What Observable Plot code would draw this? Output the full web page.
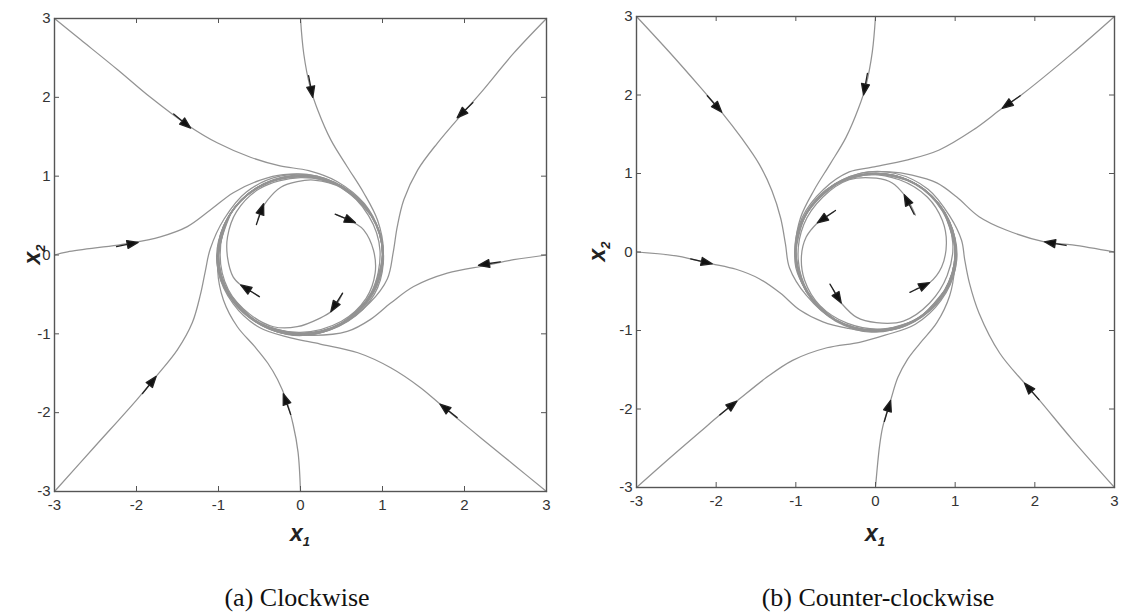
<!DOCTYPE html>
<html>
<head>
<meta charset="utf-8">
<script src="https://cdn.jsdelivr.net/npm/d3@7"></script>
<script src="https://cdn.jsdelivr.net/npm/@observablehq/plot@0.6"></script>
<style>
  html, body { margin: 0; padding: 0; background: #fff; }
  body { width: 1129px; height: 616px; position: relative; overflow: hidden; }
  .panel { position: absolute; top: 0; }
  .caption {
    position: absolute; top: 585px; line-height: 1;
    font-family: "Liberation Serif", "Times New Roman", serif;
    font-size: 26px; color: #111; white-space: nowrap;
    transform: translateX(-50%);
  }
</style>
</head>
<body>
<div id="a" class="panel" style="left:0px"></div>
<div id="b" class="panel" style="left:560px"></div>
<div class="caption" style="left:297px">(a) Clockwise</div>
<div class="caption" style="left:878px">(b) Counter-clockwise</div>
<script>
// Axis ticks shared by both phase portraits
const ticks = [-3, -2, -1, 0, 1, 2, 3];

// ---- (a) clockwise flow: trajectories as [x1, x2] samples ----
const cwFromNW = [[-3,3],[-2.68,2.73],[-2.23,2.35],[-1.83,2.0],[-1.38,1.65],[-1.01,1.42],[-0.61,1.24],[-0.25,1.13],[0.1,1.07],[0.45,0.93],[0.78,0.65],[0.96,0.3],[1.01,-0.1],[0.9,-0.5],[0.58,-0.84],[0.1,-1.01],[-0.4,-0.93],[-0.8,-0.62],[-1.0,-0.2],[-0.97,0.25],[-0.75,0.66],[-0.35,0.94],[0.1,1.0]];
const cwFromN = [[0,3],[0.04,2.55],[0.12,2.12],[0.21,1.84],[0.37,1.46],[0.57,1.12],[0.77,0.79],[0.94,0.44],[1.01,0.06],[0.93,-0.4],[0.68,-0.75],[0.3,-0.97],[-0.15,-1.01],[-0.6,-0.81],[-0.92,-0.42],[-1.01,0.05],[-0.86,0.52],[-0.5,0.87],[0,1.0],[0.5,0.87],[0.86,0.5]];
const cwFromNE = [[3,3],[2.6,2.56],[2.2,2.06],[1.98,1.8],[1.67,1.42],[1.43,1.08],[1.26,0.7],[1.18,0.36],[1.13,0.03],[1.06,-0.3],[0.85,-0.6],[0.5,-0.88],[0.05,-1.02],[-0.45,-0.9],[-0.85,-0.55],[-1.02,-0.1],[-0.93,0.38],[-0.62,0.79],[-0.15,0.99],[0.35,0.94],[0.78,0.62]];
const cwFromE = [[3,0],[2.6,-0.06],[2.28,-0.13],[1.79,-0.23],[1.38,-0.4],[1.1,-0.61],[0.85,-0.82],[0.57,-0.97],[0.16,-1.02],[-0.3,-0.97],[-0.72,-0.7],[-0.96,-0.3],[-1.0,0.15],[-0.82,0.58],[-0.45,0.9],[0.02,1.0],[0.5,0.87],[0.86,0.5],[1.0,0.02],[0.87,-0.49]];
const cwFromSE = [[3,-3],[2.6,-2.66],[2.2,-2.32],[1.85,-2.02],[1.7,-1.89],[1.46,-1.68],[1.1,-1.43],[0.7,-1.24],[0.24,-1.13],[-0.12,-1.05],[-0.5,-0.92],[-0.82,-0.62],[-1.0,-0.22],[-0.98,0.22],[-0.78,0.63],[-0.4,0.92],[0.05,1.0],[0.52,0.86],[0.87,0.5],[1.0,0.02],[0.86,-0.5],[0.5,-0.87]];
const cwFromS = [[0,-3],[-0.03,-2.5],[-0.09,-2.15],[-0.17,-1.85],[-0.28,-1.58],[-0.4,-1.37],[-0.56,-1.16],[-0.77,-0.91],[-0.94,-0.57],[-1.01,-0.19],[-0.96,0.3],[-0.72,0.7],[-0.32,0.96],[0.15,1.0],[0.6,0.8],[0.92,0.4],[1.0,-0.06],[0.86,-0.5],[0.5,-0.87],[0,-1.0],[-0.5,-0.87],[-0.86,-0.5]];
const cwFromSW = [[-3,-3],[-2.5,-2.42],[-2.0,-1.84],[-1.76,-1.54],[-1.5,-1.2],[-1.32,-0.86],[-1.22,-0.5],[-1.16,-0.2],[-1.1,0.08],[-0.93,0.46],[-0.66,0.8],[-0.25,1.0],[0.2,1.0],[0.6,0.8],[0.92,0.4],[1.01,0.0],[0.9,-0.44],[0.56,-0.83],[0.08,-1.0],[-0.42,-0.91],[-0.82,-0.57],[-1.0,-0.1],[-0.9,0.44]];
const cwFromW = [[-3,0],[-2.84,0.04],[-2.07,0.15],[-1.71,0.23],[-1.38,0.36],[-1.1,0.57],[-0.82,0.79],[-0.49,0.95],[-0.21,1.02],[0.2,1.0],[0.62,0.79],[0.92,0.4],[1.01,-0.05],[0.87,-0.5],[0.5,-0.87],[0.0,-1.0],[-0.5,-0.87],[-0.87,-0.49],[-1.0,0.0],[-0.86,0.5]];
const cwInnerNW = [[-0.52,0.45],[-0.48,0.57],[-0.4,0.7],[-0.24,0.86],[-0.04,0.93],[0.16,0.95],[0.5,0.85],[0.83,0.5],[0.97,0.05],[0.86,-0.48],[0.5,-0.86],[0,-0.99],[-0.5,-0.86],[-0.87,-0.49],[-1.0,0.0],[-0.87,0.5]];
const cwInnerNE = [[0.44,0.51],[0.58,0.45],[0.67,0.4],[0.77,0.32],[0.89,0.06],[0.91,-0.23],[0.8,-0.55],[0.5,-0.84],[0.0,-0.98],[-0.5,-0.86],[-0.87,-0.49],[-1.0,0.0],[-0.87,0.5],[-0.5,0.87],[0,1.0],[0.5,0.87]];
const cwInnerSE = [[0.51,-0.49],[0.44,-0.63],[0.37,-0.72],[0.24,-0.8],[-0.04,-0.91],[-0.33,-0.91],[-0.62,-0.75],[-0.88,-0.44],[-0.98,0.0],[-0.87,0.49],[-0.5,0.86],[0,0.99],[0.5,0.87],[0.87,0.5],[1.0,0],[0.87,-0.5]];
const cwInnerSW = [[-0.5,-0.53],[-0.62,-0.45],[-0.73,-0.38],[-0.82,-0.28],[-0.89,-0.03],[-0.89,0.23],[-0.78,0.55],[-0.5,0.84],[0,0.98],[0.5,0.86],[0.87,0.49],[1.0,0],[0.87,-0.5],[0.5,-0.87],[0,-1.0],[-0.5,-0.87]];
// direction arrows: [tailX, tailY, tipX, tipY]
const cwArrows = [
  [-1.56,1.80,-1.34,1.61], [-2.23,0.11,-1.98,0.16], [0.09,2.32,0.15,2.0], [2.11,1.94,1.91,1.74],
  [2.41,-0.09,2.17,-0.13], [1.98,-2.12,1.70,-1.89], [-0.11,-2.05,-0.21,-1.76], [-1.99,-1.84,-1.76,-1.54],
  [-0.51,0.47,-0.45,0.65], [0.44,0.51,0.67,0.41], [0.51,-0.49,0.37,-0.72], [-0.50,-0.53,-0.73,-0.38]
];

// ---- (b) counter-clockwise flow ----
const ccwFromNW = [[-3,3],[-2.6,2.56],[-2.2,2.1],[-1.93,1.78],[-1.68,1.45],[-1.46,1.12],[-1.3,0.78],[-1.19,0.43],[-1.13,0.1],[-1.08,-0.2],[-0.87,-0.55],[-0.5,-0.88],[-0.05,-1.02],[0.45,-0.9],[0.85,-0.55],[1.02,-0.1],[0.93,0.38],[0.62,0.79],[0.15,0.99],[-0.35,0.94],[-0.78,0.62]];
const ccwFromN = [[0,3],[-0.04,2.55],[-0.12,2.12],[-0.21,1.84],[-0.37,1.46],[-0.57,1.12],[-0.77,0.79],[-0.94,0.44],[-1.01,0.06],[-1.0,-0.2],[-0.88,-0.47],[-0.6,-0.8],[-0.15,-1.0],[0.3,-0.97],[0.68,-0.75],[0.93,-0.4],[1.01,0.05],[0.86,0.52],[0.5,0.87],[0,1.0],[-0.5,0.87],[-0.86,0.5]];
const ccwFromNE = [[3,3],[2.47,2.53],[1.83,2.0],[1.59,1.83],[1.22,1.55],[0.8,1.3],[0.39,1.17],[-0.04,1.08],[-0.33,1.02],[-0.65,0.8],[-0.92,0.44],[-1.01,0.0],[-0.86,-0.52],[-0.5,-0.87],[0,-1.0],[0.5,-0.87],[0.86,-0.5],[1.0,0],[0.87,0.5],[0.5,0.87],[0,1.0]];
const ccwFromE = [[3,0],[2.47,0.09],[2.12,0.13],[1.64,0.28],[1.3,0.45],[1.02,0.7],[0.77,0.88],[0.46,0.98],[0.18,1.02],[-0.2,1.0],[-0.62,0.79],[-0.92,0.4],[-1.01,-0.05],[-0.87,-0.5],[-0.5,-0.87],[0,-1.0],[0.5,-0.87],[0.87,-0.49],[1.0,0],[0.86,0.5]];
const ccwFromSE = [[3,-3],[2.47,-2.39],[2.06,-1.89],[1.87,-1.67],[1.56,-1.29],[1.3,-0.78],[1.18,-0.4],[1.12,-0.1],[1.08,0.15],[0.93,0.46],[0.66,0.8],[0.25,1.0],[-0.2,1.0],[-0.6,0.8],[-0.92,0.4],[-1.0,-0.05],[-0.86,-0.5],[-0.5,-0.87],[0,-1.0],[0.5,-0.87],[0.87,-0.5]];
const ccwFromS = [[0,-3],[0.05,-2.48],[0.09,-2.23],[0.19,-1.89],[0.28,-1.6],[0.4,-1.37],[0.56,-1.16],[0.77,-0.9],[0.93,-0.56],[0.99,-0.23],[0.98,0.2],[0.8,0.6],[0.42,0.91],[-0.05,1.0],[-0.52,0.85],[-0.87,0.48],[-1.0,0.0],[-0.87,-0.5],[-0.5,-0.87],[0,-1.0],[0.5,-0.87],[0.86,-0.5]];
const ccwFromSW = [[-3,-3],[-2.6,-2.64],[-2.2,-2.29],[-1.96,-2.08],[-1.74,-1.9],[-1.37,-1.6],[-1.04,-1.38],[-0.61,-1.22],[-0.2,-1.15],[0.12,-1.06],[0.5,-0.92],[0.82,-0.62],[1.0,-0.22],[0.98,0.22],[0.78,0.63],[0.4,0.92],[-0.05,1.0],[-0.52,0.86],[-0.87,0.5],[-1.0,0.02],[-0.86,-0.5],[-0.5,-0.87]];
const ccwFromW = [[-3,0],[-2.5,-0.05],[-2.27,-0.1],[-2.05,-0.15],[-1.75,-0.22],[-1.46,-0.34],[-1.2,-0.52],[-0.95,-0.74],[-0.66,-0.89],[-0.36,-0.97],[-0.05,-1.01],[0.35,-0.95],[0.75,-0.68],[0.97,-0.28],[1.0,0.15],[0.82,0.58],[0.45,0.9],[-0.02,1.0],[-0.5,0.87],[-0.86,0.5],[-1.0,0.02]];
const ccwInnerNE = [[0.5,0.47],[0.44,0.6],[0.36,0.73],[0.21,0.88],[0.01,0.94],[-0.33,0.92],[-0.66,0.7],[-0.9,0.35],[-0.97,-0.1],[-0.84,-0.52],[-0.5,-0.86],[0,-0.99],[0.5,-0.86],[0.87,-0.49],[1.0,0.0],[0.87,0.5]];
const ccwInnerNW = [[-0.53,0.51],[-0.64,0.44],[-0.73,0.37],[-0.87,0.19],[-0.93,-0.06],[-0.89,-0.36],[-0.7,-0.68],[-0.35,-0.91],[0.1,-0.98],[0.55,-0.83],[0.88,-0.47],[1.0,0.02],[0.86,0.5],[0.5,0.87],[0,1.0],[-0.5,0.87]];
const ccwInnerSW = [[-0.53,-0.48],[-0.48,-0.58],[-0.43,-0.65],[-0.24,-0.83],[0.01,-0.9],[0.35,-0.88],[0.68,-0.65],[0.9,-0.3],[0.97,0.12],[0.84,0.52],[0.5,0.86],[0,0.99],[-0.5,0.86],[-0.87,0.49],[-1.0,0.0],[-0.87,-0.5]];
const ccwInnerSE = [[0.5,-0.48],[0.6,-0.43],[0.68,-0.39],[0.83,-0.19],[0.89,0.11],[0.84,0.4],[0.65,0.7],[0.3,0.92],[-0.15,0.98],[-0.58,0.8],[-0.9,0.42],[-1.0,-0.05],[-0.86,-0.5],[-0.5,-0.87],[0,-1.0],[0.5,-0.87]];
const ccwArrows = [
  [-2.12,2.0,-1.93,1.78], [-2.27,-0.1,-2.05,-0.15], [-0.09,2.34,-0.15,2.0], [1.83,2.0,1.59,1.83],
  [2.41,0.08,2.12,0.13], [2.06,-1.89,1.87,-1.67], [0.09,-2.23,0.19,-1.89], [-1.96,-2.08,-1.74,-1.9],
  [0.49,0.47,0.36,0.73], [-0.53,0.51,-0.73,0.37], [-0.53,-0.48,-0.43,-0.65], [0.50,-0.48,0.68,-0.39]
];

// Filled arrowhead on a short shaft, pointing along the vector
const arrowShape = {
  draw(context, l) {
    const hl = 11, hw = 4;
    context.moveTo(0, 0);
    context.lineTo(0, -l + hl);
    context.moveTo(-hw, -l + hl);
    context.lineTo(0, -l);
    context.lineTo(hw, -l + hl);
    context.closePath();
  }
};

function portrait(el, {width, height, mL, mR, mT, mB, paths, arrows, yLabelX}) {
  const plotW = width - mL - mR, plotH = height - mT - mB;
  const kx = plotW / 6, ky = plotH / 6;
  const rows = paths.flatMap((p, i) => p.map(([x, y]) => ({x, y, id: i})));
  const heads = arrows.map(([x1, y1, x2, y2]) => ({
    x: x2, y: y2, a: Math.atan2((x2 - x1) * kx, (y2 - y1) * ky) * 180 / Math.PI
  }));
  const fam = "'Liberation Sans', Arial, sans-serif";
  const svg = Plot.plot({
    width, height,
    marginLeft: mL, marginRight: mR, marginTop: mT, marginBottom: mB,
    x: {domain: [-3, 3], label: null},
    y: {domain: [-3, 3], label: null},
    style: {fontFamily: fam, fontSize: "15px", color: "#333", background: "#fff"},
    marks: [
      Plot.line(rows, {x: "x", y: "y", z: "id", stroke: "#939393", strokeWidth: 1.25, curve: "catmull-rom"}),
      Plot.vector(heads, {x: "x", y: "y", rotate: "a", length: 22, anchor: "end", shape: arrowShape,
        fill: "#111", stroke: "#222", strokeWidth: 1.3}),
      Plot.tickX(ticks, {x: d => d, insetTop: plotH - 5, stroke: "#555"}),
      Plot.tickX(ticks, {x: d => d, insetBottom: plotH - 5, stroke: "#555"}),
      Plot.tickY(ticks, {y: d => d, insetRight: plotW - 5, stroke: "#555"}),
      Plot.tickY(ticks, {y: d => d, insetLeft: plotW - 5, stroke: "#555"}),
      Plot.frame({stroke: "#555", strokeWidth: 1.4}),
      Plot.axisX({ticks, tickSize: 0, tickPadding: 8, fontSize: 15, tickFormat: d => String(d), label: null}),
      Plot.axisY({ticks, tickSize: 0, tickPadding: 4, fontSize: 15, tickFormat: d => String(d), label: null})
    ]
  });
  const s = d3.select(svg);
  s.append("text")
    .attr("x", mL + plotW / 2).attr("y", 541)
    .attr("text-anchor", "middle").attr("font-family", fam)
    .attr("font-weight", "bold").attr("font-style", "italic")
    .attr("font-size", 23).attr("fill", "#222")
    .text("x")
    .append("tspan").attr("font-size", 13).attr("dy", 5).text("1");
  s.append("text")
    .attr("transform", `translate(${yLabelX},${mT + plotH / 2}) rotate(-90)`)
    .attr("text-anchor", "middle").attr("font-family", fam)
    .attr("font-weight", "bold").attr("font-style", "italic")
    .attr("font-size", 23).attr("fill", "#222")
    .text("x")
    .append("tspan").attr("font-size", 13).attr("dy", 5).text("2");
  document.getElementById(el).append(svg);
}

portrait("a", {
  width: 560, height: 560, mL: 54, mR: 14, mT: 18, mB: 69,
  paths: [cwFromNW, cwFromN, cwFromNE, cwFromE, cwFromSE, cwFromS, cwFromSW, cwFromW,
          cwInnerNW, cwInnerNE, cwInnerSE, cwInnerSW],
  arrows: cwArrows, yLabelX: 40
});
portrait("b", {
  width: 569, height: 560, mL: 76, mR: 15, mT: 16, mB: 73,
  paths: [ccwFromNW, ccwFromN, ccwFromNE, ccwFromE, ccwFromSE, ccwFromS, ccwFromSW, ccwFromW,
          ccwInnerNE, ccwInnerNW, ccwInnerSW, ccwInnerSE],
  arrows: ccwArrows, yLabelX: 45
});
</script>
</body>
</html>
